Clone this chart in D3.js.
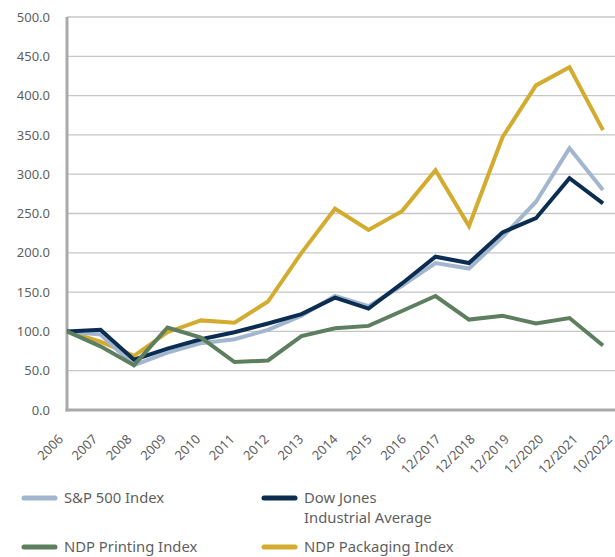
<!DOCTYPE html>
<html>
<head>
<meta charset="utf-8">
<script src="https://cdn.jsdelivr.net/npm/d3@7"></script>
<style>
  body { margin: 0; background: #fff; }
  svg text { font-family: "Noto Sans", sans-serif; fill: #5f5f5f; }
</style>
</head>
<body>
<div id="chart"></div>
<script>
// categories and index values (2006 = 100)
const categories = ["2006", "2007", "2008", "2009", "2010", "2011", "2012", "2013", "2014", "2015", "2016",
  "12/2017", "12/2018", "12/2019", "12/2020", "12/2021", "10/2022"];
const sp500 = [100, 96, 57, 73, 85, 90, 102, 120, 145, 132, 158, 187, 180, 220, 265, 333, 280];
const dowJones = [100, 102, 64, 78, 90, 99, 110, 122, 143, 129, 161, 195, 187, 226, 244, 295, 263];
const printing = [100, 81, 57, 105, 92, 61, 63, 94, 104, 107, 126, 145, 115, 120, 110, 117, 82];
const packaging = [100, 87, 69, 99, 114, 111, 138, 200, 256, 229, 253, 305, 234, 347, 413, 436, 356];
const yTicks = [0, 50, 100, 150, 200, 250, 300, 350, 400, 450, 500];

const seriesNames = ["S&P 500 Index", "Dow Jones Industrial Average", "NDP Printing Index", "NDP Packaging Index"];
const colors = ["#a3b6cf", "#0b2d52", "#5e7f5f", "#d3ac2f"];

const width = 615, height = 557;
const margin = { top: 17, right: 12, bottom: 147, left: 67 };

const svg = d3.select("#chart").append("svg")
  .attr("width", width)
  .attr("height", height);

const x = d3.scalePoint()
  .domain(categories)
  .range([margin.left, width - margin.right]);

// tick labels are spread a little wider than the points
const xLabel = d3.scalePoint()
  .domain(categories)
  .range([margin.left - 3, width - 2]);

const y = d3.scaleLinear()
  .domain([0, 500])
  .range([height - margin.bottom, margin.top]);

// gridlines
svg.append("g")
  .selectAll("line")
  .data(yTicks.slice(1))
  .enter().append("line")
  .attr("x1", margin.left)
  .attr("x2", width)
  .attr("y1", d => y(d))
  .attr("y2", d => y(d))
  .attr("stroke", "#c6c6c6")
  .attr("stroke-width", 1.3);

// y axis labels
const yAxis = svg.append("g")
  .attr("transform", "translate(" + margin.left + ",0)")
  .call(d3.axisLeft(y).tickValues(yTicks).tickFormat(d3.format(".1f")).tickSize(0).tickPadding(17));
yAxis.select(".domain").remove();
yAxis.selectAll("text")
  .style("font-family", "Noto Sans, sans-serif")
  .style("font-size", "13px")
  .attr("fill", "#666");

// axis lines
svg.append("line")
  .attr("x1", margin.left).attr("x2", margin.left)
  .attr("y1", margin.top).attr("y2", y(0) + 1.5)
  .attr("stroke", "#aaa").attr("stroke-width", 3);
svg.append("line")
  .attr("x1", margin.left - 1.5).attr("x2", width)
  .attr("y1", y(0)).attr("y2", y(0))
  .attr("stroke", "#aaa").attr("stroke-width", 3);

// x labels
svg.append("g")
  .selectAll("text")
  .data(categories)
  .enter().append("text")
  .attr("transform", d => "translate(" + xLabel(d) + "," + (y(0) + 30) + ") rotate(-45)")
  .attr("text-anchor", "end")
  .style("font-size", "13px")
  .attr("fill", "#666")
  .text(d => d);

// lines
const series = [
  { name: seriesNames[0], values: sp500, color: colors[0] },
  { name: seriesNames[1], values: dowJones, color: colors[1] },
  { name: seriesNames[2], values: printing, color: colors[2] },
  { name: seriesNames[3], values: packaging, color: colors[3] }
];

const line = d3.line()
  .x((d, i) => x(categories[i]))
  .y(d => y(d));

const drawOrder = [3, 0, 1, 2];
svg.append("g")
  .selectAll("path")
  .data(drawOrder.map(i => series[i]))
  .enter().append("path")
  .attr("d", d => line(d.values))
  .attr("fill", "none")
  .attr("stroke", d => d.color)
  .attr("stroke-width", 4)
  .attr("stroke-linejoin", "miter")
  .attr("stroke-linecap", "butt");

// legend
const legendItems = [
  { s: series[0], lx: 22, ly: 498, lines: ["S&P 500 Index"] },
  { s: series[1], lx: 262, ly: 498, lines: ["Dow Jones", "Industrial Average"] },
  { s: series[2], lx: 22, ly: 547, lines: ["NDP Printing Index"] },
  { s: series[3], lx: 262, ly: 547, lines: ["NDP Packaging Index"] }
];

const leg = svg.append("g")
  .selectAll("g")
  .data(legendItems)
  .enter().append("g")
  .attr("transform", d => "translate(" + d.lx + "," + d.ly + ")");

leg.append("line")
  .attr("x1", 2).attr("x2", 33)
  .attr("stroke", d => d.s.color)
  .attr("stroke-width", 5)
  .attr("stroke-linecap", "round");

leg.append("text")
  .attr("x", 42)
  .attr("y", 5)
  .style("font-size", "14.8px")
  .attr("fill", "#555")
  .selectAll("tspan")
  .data(d => d.lines)
  .enter().append("tspan")
  .attr("x", 42)
  .attr("dy", (d, i) => i === 0 ? 0 : 20)
  .text(d => d);
</script>
</body>
</html>
